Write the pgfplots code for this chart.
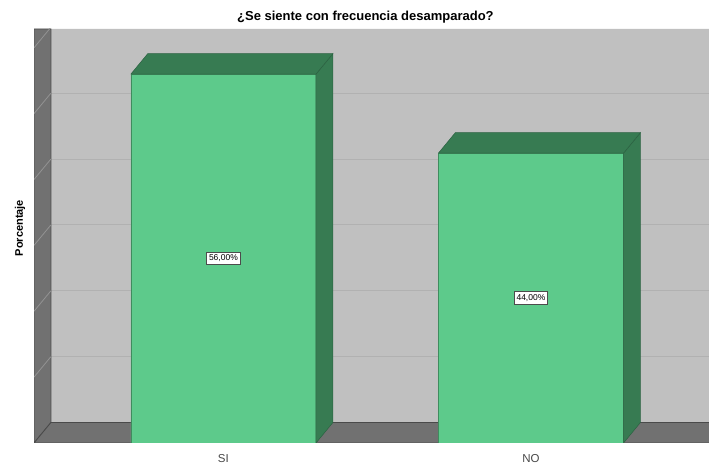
\documentclass[border=0pt]{standalone}
\usepackage{pgfplots}
\pgfplotsset{compat=1.18}
\usepackage{fontspec}
\setmainfont{Liberation Sans}
\definecolor{wallback}{HTML}{C0C0C0}
\definecolor{walldark}{HTML}{717171}
\definecolor{gridc}{HTML}{B1B1B1}
\definecolor{gridl}{HTML}{939393}
\definecolor{edgec}{HTML}{4A4A4A}
\definecolor{barfront}{HTML}{5DCA8B}
\definecolor{bardark}{HTML}{377B52}
\definecolor{baredge}{HTML}{3F8C5E}
\begin{document}
\begin{tikzpicture}
\path[use as bounding box] (0,0) rectangle (709pt,468pt);
\begin{axis}[
  at={(34pt,25pt)}, anchor=south west,
  scale only axis, width=675pt, height=414pt,
  xmin=-0.616, xmax=1.579, ymin=0, ymax=62.85,
  clip=true,
  axis line style={draw=none},
  major tick length=0pt,
  ytick=\empty,
  xtick={0,1}, xticklabels={SI,NO},
  xticklabel style={font=\fontsize{11.5}{12}\selectfont, text=black!72, anchor=center},
  xticklabel shift=0pt,
  every x tick label/.append style={yshift=-16pt},
  ylabel={Porcentaje},
  ylabel style={at={(axis description cs:-0.0207,0.519)}, anchor=center, rotate=0, font=\fontsize{11}{12}\selectfont\bfseries},
  title={¿Se siente con frecuencia desamparado?},
  title style={at={(axis description cs:0.491,1.013)}, anchor=center, font=\fontsize{13}{14}\selectfont\bfseries},
]
% back wall
\addplot[fill=wallback, draw=none] coordinates {(-0.561,3.11) (1.579,3.11) (1.579,62.85) (-0.561,62.85) (-0.561,3.11)};
% back wall gridlines (10 % steps)
\addplot[gridc, line width=1pt] coordinates {(-0.561,13.11) (1.579,13.11)};
\addplot[gridc, line width=1pt] coordinates {(-0.561,23.11) (1.579,23.11)};
\addplot[gridc, line width=1pt] coordinates {(-0.561,33.11) (1.579,33.11)};
\addplot[gridc, line width=1pt] coordinates {(-0.561,43.11) (1.579,43.11)};
\addplot[gridc, line width=1pt] coordinates {(-0.561,53.11) (1.579,53.11)};
% left wall
\addplot[fill=walldark, draw=edgec, line width=0.8pt] coordinates {(-0.616,0) (-0.561,3.11) (-0.561,62.85) (-0.616,62.85) (-0.616,0)};
\addplot[gridl, line width=0.8pt] coordinates {(-0.616,10) (-0.561,13.11)};
\addplot[gridl, line width=0.8pt] coordinates {(-0.616,20) (-0.561,23.11)};
\addplot[gridl, line width=0.8pt] coordinates {(-0.616,30) (-0.561,33.11)};
\addplot[gridl, line width=0.8pt] coordinates {(-0.616,40) (-0.561,43.11)};
\addplot[gridl, line width=0.8pt] coordinates {(-0.616,50) (-0.561,53.11)};
\addplot[gridl, line width=0.8pt] coordinates {(-0.616,60) (-0.561,63.11)};
% floor
\addplot[fill=walldark, draw=edgec, line width=0.8pt] coordinates {(-0.616,0) (1.62,0) (1.62,3.11) (-0.561,3.11) (-0.616,0)};
% bars: front faces
\addplot[ybar, bar width=0.602, fill=barfront, draw=baredge, line width=0.6pt] coordinates {(0,56) (1,44)};
% bars: side faces
\addplot[fill=bardark, draw=bardark!80!black, line width=0.5pt] coordinates {(0.301,0) (0.356,3.11) (0.356,59.11) (0.301,56) (0.301,0)};
\addplot[fill=bardark, draw=bardark!80!black, line width=0.5pt] coordinates {(1.301,0) (1.356,3.11) (1.356,47.11) (1.301,44) (1.301,0)};
% bars: top faces
\addplot[fill=bardark, draw=bardark!80!black, line width=0.5pt] coordinates {(-0.301,56) (0.301,56) (0.356,59.11) (-0.246,59.11) (-0.301,56)};
\addplot[fill=bardark, draw=bardark!80!black, line width=0.5pt] coordinates {(0.699,44) (1.301,44) (1.356,47.11) (0.754,47.11) (0.699,44)};
% value labels
\node[fill=white, draw=black!70, line width=1pt, inner xsep=2.5pt, inner ysep=2.8pt, font=\fontsize{8.5}{9}\selectfont] at (axis cs:0,28) {56,00\%};
\node[fill=white, draw=black!70, line width=1pt, inner xsep=2.5pt, inner ysep=2.8pt, font=\fontsize{8.5}{9}\selectfont] at (axis cs:1,22) {44,00\%};
\end{axis}
\end{tikzpicture}
\end{document}
